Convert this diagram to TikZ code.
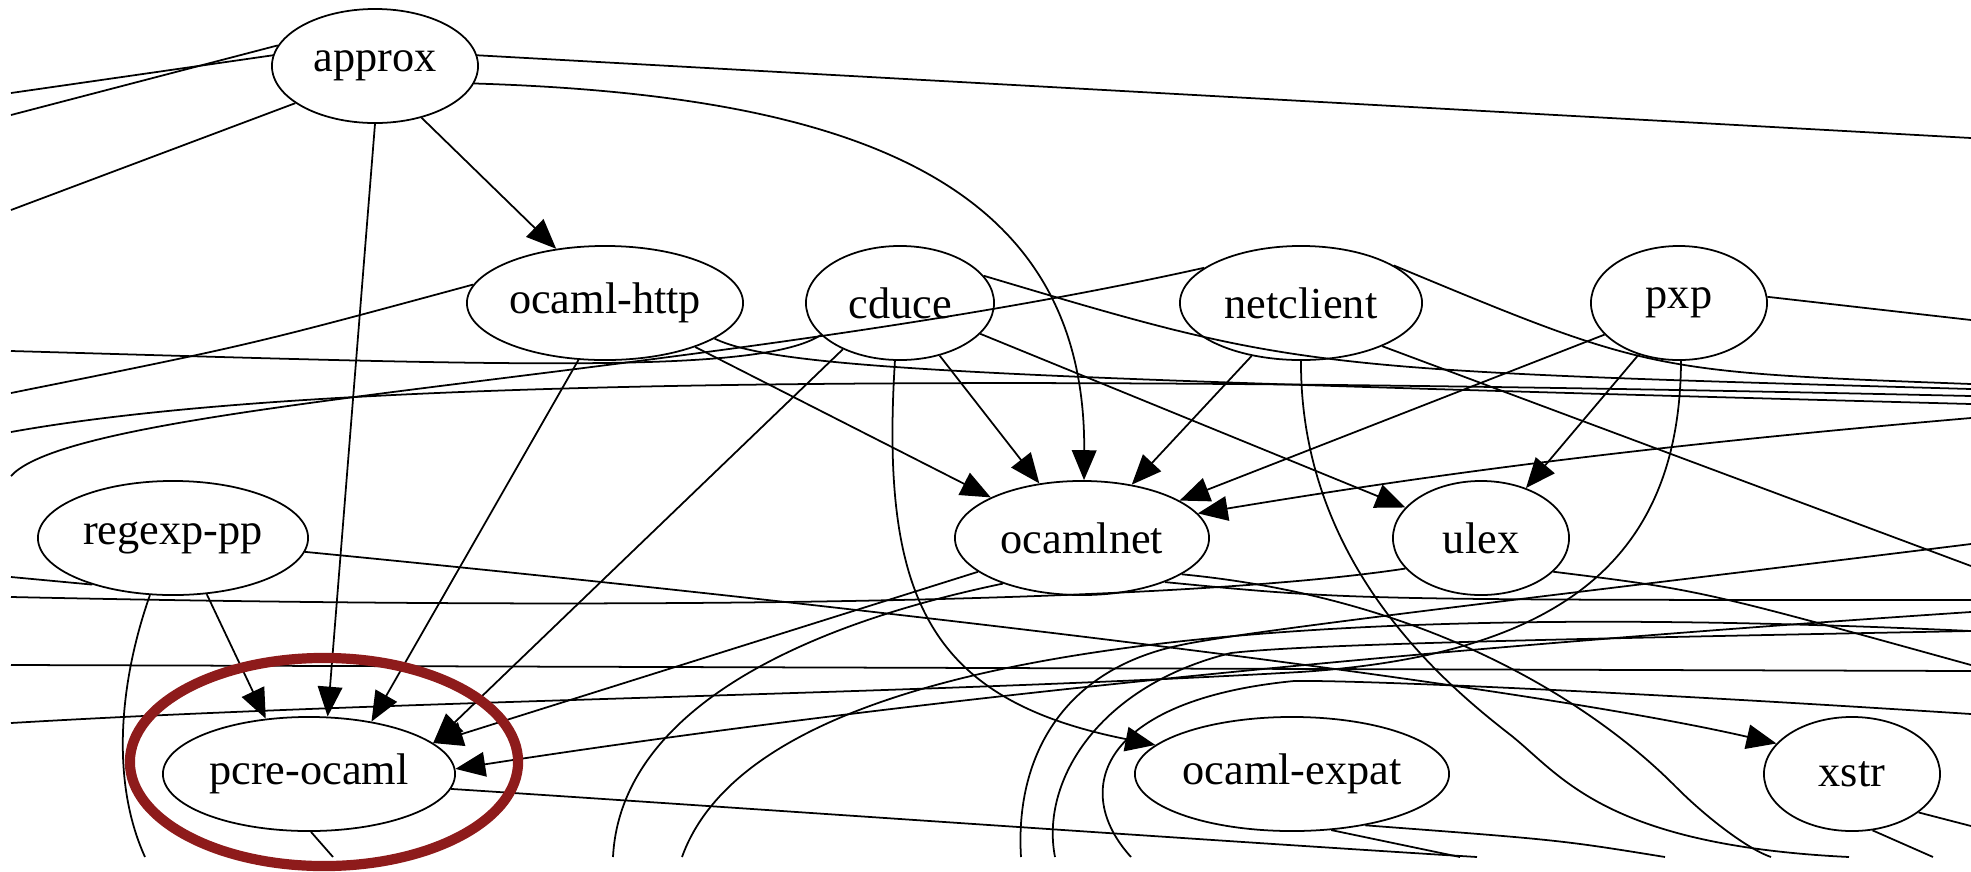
\documentclass[tikz,border=0pt]{standalone}
\usepackage{fontspec}
\setmainfont{Liberation Serif}
\usetikzlibrary{arrows.meta,shapes.geometric}
\definecolor{ringred}{HTML}{8E1B1B}

\begin{document}
\begin{tikzpicture}[x=0.01cm,y=0.01cm,>={Triangle[length=8.5pt,width=7pt]},
  pkg/.style={ellipse,draw,line width=0.5pt,inner sep=0pt,minimum height=1.14cm,font=\fontsize{12.6}{15}\selectfont},
  link/.style={line width=0.5pt},
  dep/.style={link,->}]
  \useasboundingbox (0,0) rectangle (1971,-872);
  % packages
  \node[pkg,minimum width=2.06cm] (approx) at (375,-66) {approx};
  \node[pkg,minimum width=2.76cm] (ohttp) at (605,-303) {ocaml-http};
  \node[pkg,minimum width=1.88cm] (cduce) at (900,-303) {cduce};
  \node[pkg,minimum width=2.42cm] (netclient) at (1301,-303) {netclient};
  \node[pkg,minimum width=1.76cm] (pxp) at (1679,-303) {pxp};
  \node[pkg,minimum width=2.70cm] (regexp) at (173,-538) {regexp-pp};
  \node[pkg,minimum width=2.54cm] (ocamlnet) at (1082,-538) {ocamlnet};
  \node[pkg,minimum width=1.76cm] (ulex) at (1481,-538) {ulex};
  \node[pkg,minimum width=2.92cm] (pcre) at (309,-774) {pcre-ocaml};
  \node[pkg,minimum width=3.14cm] (expat) at (1292,-774) {ocaml-expat};
  \node[pkg,minimum width=1.76cm] (xstr) at (1852,-774) {xstr};
  % loose ends at the frame
  \foreach \n/\x/\y in {w1/11/93,w2/11/115,w3/11/210,w4/11/351,w5/11/393,w6/11/432,w7/11/476,
      w8/11/577,w9/11/597,w10/11/665,w11/11/723,
      e1/1971/138,e2/1971/320,e3/1971/384,e4/1971/389,e5/1971/396,e6/1971/404,e7/1971/418,
      e8/1971/544,e9/1971/566,e10/1971/600,e11/1971/612,e12/1971/631,e13/1971/665,e14/1971/671,
      e15/1971/714,e16/1971/826,
      s1/145/857,s2/333/857,s3/613/857,s4/682/857,s5/1021/857,s6/1055/857,s7/1131/857,
      s8/1477/857,s9/1460/857,s10/1665/857,s11/1771/857,s12/1849/857,s13/1933/857}
    \coordinate (\n) at (\x,-\y);
  % dependencies
  \draw[dep] (approx.-48) -- (ohttp.132);
  \draw[dep] (approx.-90) -- (pcre.72);
  \draw[dep] (approx.-10) .. controls (850,-95) and (1086,-180) .. (ocamlnet.88);
  \draw[dep] (ohttp.-26) -- (ocamlnet.156);
  \draw[dep] (ohttp.-115) -- (pcre.40);
  \draw[dep] (cduce.-53) -- (ocamlnet.128);
  \draw[dep] (cduce.-141) -- (pcre.14);
  \draw[dep] (cduce.-21) -- (ulex.158);
  \draw[dep] (cduce.-95) .. controls (880,-600) and (930,-700) .. (expat.168);
  \draw[dep] (netclient.-133) -- (ocamlnet.47);
  \draw[dep] (pxp.-157) -- (ocamlnet.21);
  \draw[dep] (pxp.-128) -- (ulex.48);
  \draw[dep] (e7) .. controls (1600,-450) and (1400,-480) .. (ocamlnet.12);
  \draw[dep] (regexp.-59) -- (pcre.128);
  \draw[dep] (regexp.-6) .. controls (800,-600) and (1500,-680) .. (xstr.158);
  \draw[dep] (ocamlnet.-162) -- (pcre.14);
  \draw[dep] (e11) .. controls (1400,-650) and (900,-700) .. (pcre.2);
  % edges leaving the frame
  \draw[link] (approx.174) -- (w1);
  \draw[link] (approx.168) -- (w2);
  \draw[link] (approx.-155) -- (w3);
  \draw[link] (approx.6) -- (e1);
  \draw[link] (ohttp.172) .. controls (250,-345) .. (w5);
  \draw[link] (ohttp.-18) .. controls (780,-370) and (1000,-378) .. (e6);
  \draw[link] (cduce.-158) .. controls (760,-375) and (500,-365) .. (w4);
  \draw[link] (w6) .. controls (300,-380) and (900,-372) .. (e5);
  \draw[link] (netclient.160) .. controls (700,-380) and (80,-400) .. (w7);
  \draw[link] (netclient.22) .. controls (1650,-372) .. (e3);
  \draw[link] (cduce.18) .. controls (1300,-370) .. (e4);
  \draw[link] (netclient.-28) -- (e9);
  \draw[link] (pxp.4) -- (e2);
  \draw[link] (netclient.-90) .. controls (1300,-560) and (1440,-680) .. (1508,-733)
    .. controls (1560,-773) and (1600,-845) .. (s12);
  \draw[link] (ocamlnet.-20) .. controls (1450,-600) and (1610,-720) .. (1676,-787)
    .. controls (1710,-821) and (1750,-850) .. (s11);
  \draw[link] (pxp.-88) .. controls (1680,-560) and (1560,-655) .. (1300,-672)
    .. controls (900,-695) and (400,-700) .. (w11);
  \draw[link] (ulex.-158) .. controls (1200,-600) and (700,-612) .. (w9);
  \draw[link] (ulex.-25) .. controls (1700,-590) .. (e13);
  \draw[link] (ocamlnet.-28) .. controls (1350,-600) .. (e10);
  \draw[link] (ocamlnet.-150) .. controls (780,-630) and (620,-720) .. (s3);
  \draw[link] (e12) .. controls (1300,-600) and (760,-640) .. (s4);
  \draw[link] (regexp.-150) -- (w8);
  \draw[link] (regexp.-112) .. controls (120,-680) and (110,-780) .. (s1);
  \draw[link] (w10) -- (e14);
  \draw[link] (pcre.-88) -- (s2);
  \draw[link] (pcre.-6) .. controls (700,-805) and (1200,-840) .. (s8);
  \draw[link] (e8) .. controls (1600,-590) and (1250,-630) .. (1181,-645)
    .. controls (1060,-670) and (1015,-760) .. (s5);
  \draw[link] (e12) .. controls (1500,-640) and (1300,-645) .. (1231,-653)
    .. controls (1100,-685) and (1040,-780) .. (s6);
  \draw[link] (e15) .. controls (1600,-690) and (1350,-680) .. (1294,-681)
    .. controls (1100,-700) and (1070,-790) .. (s7);
  \draw[link] (expat.-55) -- (s9);
  \draw[link] (expat.-35) .. controls (1560,-840) .. (s10);
  \draw[link] (xstr.-30) -- (e16);
  \draw[link] (xstr.-70) -- (s13);
  % highlight
  \draw[ringred,line width=2.9pt] (324,-762) ellipse [x radius=1.94cm,y radius=1.04cm];
\end{tikzpicture}
\end{document}
